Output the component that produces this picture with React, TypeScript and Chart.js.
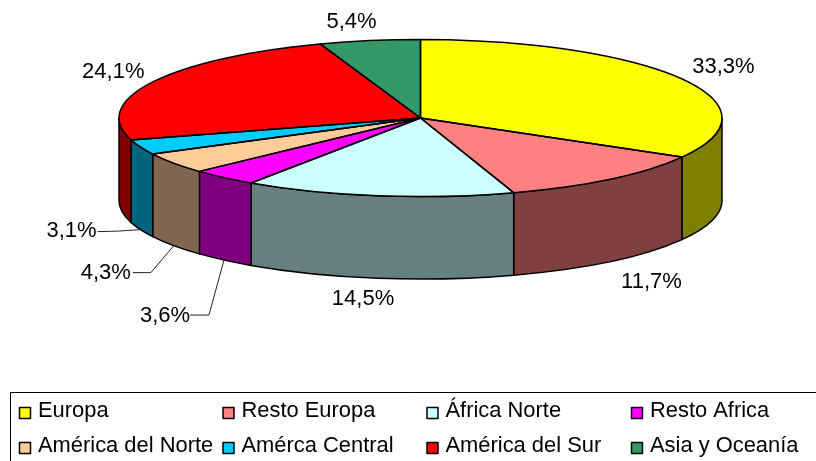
import React, { useEffect, useRef } from "react";
import { Chart, registerables } from "chart.js";

Chart.register(...registerables);

const categories = ["Europa", "Resto Europa", "África Norte", "Resto Africa", "América del Norte", "Amérca Central", "América del Sur", "Asia y Oceanía"];
const shares = [33.3, 11.7, 14.5, 3.6, 4.3, 3.1, 24.1, 5.4];
const topColors = ["#FFFF00", "#FF8080", "#CCFFFF", "#FF00FF", "#FFCC99", "#00CCFF", "#FF0000", "#339966"];
const sideColors = ["#808000", "#804040", "#668080", "#800080", "#806650", "#006680", "#800000", "#1A4D33"];

// layout (not data)
const RADIUS = 301.5;
const SQUASH = 78.5 / 301.5;
const DEPTH = 82.5;
const labelOffsets = [[42, -13], [41, 102], [-15, 102], [-59, 137], [-68, 109], [-69, 83], [-39, -11], [-18, -20]];
// elbows of leader lines relative to the anchor on the lower rim, then line end
const leaders: Record<number, number[][]> = {
  3: [[-15, 55], [-34, 55]],
  4: [[-23, 27], [-41, 27]],
  5: [[-23, 1.5], [-43, 2]],
};
const legendCols = [19.5, 223, 427, 631.5];
const legendBaselines = [417, 452];
const LABEL_FONT = '22px "Liberation Sans", Arial, sans-serif';
const LEGEND_FONT = '21.9px "Liberation Sans", Arial, sans-serif';

const fmt = (v: number) => v.toFixed(1).replace(".", ",") + "%";

const pie3d = {
  id: "pie3d",
  beforeDatasetsDraw(chart: any) {
    const { ctx } = chart;
    const arcs = chart.getDatasetMeta(0).data;
    ctx.save();
    arcs.forEach((a: any, i: number) => {
      const s = Math.max(a.startAngle, 0);
      const e = Math.min(a.endAngle, Math.PI);
      if (e <= s) return;
      const rx = a.outerRadius;
      const ry = rx * SQUASH;
      ctx.beginPath();
      ctx.ellipse(a.x, a.y, rx, ry, 0, s, e);
      ctx.ellipse(a.x, a.y + DEPTH, rx, ry, 0, e, s, true);
      ctx.closePath();
      ctx.fillStyle = sideColors[i];
      ctx.fill();
      ctx.lineWidth = 1.5;
      ctx.strokeStyle = "#000";
      ctx.lineJoin = "round";
      ctx.stroke();
    });
    ctx.restore();
    const first = arcs[0];
    ctx.save();
    ctx.translate(0, first.y);
    ctx.scale(1, SQUASH);
    ctx.translate(0, -first.y);
  },
  afterDatasetsDraw(chart: any) {
    const { ctx } = chart;
    ctx.restore();
    const arcs = chart.getDatasetMeta(0).data;
    ctx.save();
    ctx.lineWidth = 1.5;
    ctx.strokeStyle = "#000";
    ctx.lineJoin = "round";
    arcs.forEach((a: any) => {
      const rx = a.outerRadius;
      const ry = rx * SQUASH;
      ctx.beginPath();
      ctx.moveTo(a.x, a.y);
      ctx.ellipse(a.x, a.y, rx, ry, 0, a.startAngle, a.endAngle);
      ctx.closePath();
      ctx.stroke();
    });
    // data labels
    ctx.font = LABEL_FONT;
    ctx.fillStyle = "#000";
    ctx.textAlign = "center";
    ctx.textBaseline = "middle";
    arcs.forEach((a: any, i: number) => {
      const mid = (a.startAngle + a.endAngle) / 2;
      const px = a.x + a.outerRadius * Math.cos(mid);
      const py = a.y + a.outerRadius * SQUASH * Math.sin(mid);
      const [dx, dy] = labelOffsets[i];
      ctx.fillText(fmt(shares[i]), px + dx, py + dy + 1);
      const lead = leaders[i];
      if (lead) {
        const ay = py + DEPTH;
        ctx.beginPath();
        ctx.moveTo(px, ay);
        lead.forEach(([lx, ly]) => ctx.lineTo(px + lx, ay + ly));
        ctx.lineWidth = 1;
        ctx.strokeStyle = "#222";
        ctx.stroke();
      }
    });
    // legend
    ctx.lineWidth = 1;
    ctx.strokeStyle = "#000";
    ctx.strokeRect(10.5, 392.5, 900, 100);
    ctx.textAlign = "left";
    ctx.textBaseline = "alphabetic";
    ctx.font = LEGEND_FONT;
    categories.forEach((c, i) => {
      const x = legendCols[i % 4];
      const y = legendBaselines[Math.floor(i / 4)];
      ctx.fillStyle = topColors[i];
      ctx.fillRect(x, y - 9.5, 11, 11);
      ctx.lineWidth = 1.5;
      ctx.strokeRect(x, y - 9.5, 11, 11);
      ctx.fillStyle = "#000";
      ctx.fillText(c, x + 18.5, y);
    });
    ctx.restore();
  },
};

export default function App() {
  const ref = useRef<HTMLCanvasElement>(null);
  useEffect(() => {
    const chart = new Chart(ref.current!, {
      type: "pie",
      data: {
        labels: categories,
        datasets: [{ data: shares, backgroundColor: topColors, borderWidth: 0, clip: false } as any],
      },
      options: {
        responsive: false,
        animation: false,
        radius: RADIUS,
        layout: { padding: { left: 25, right: 0, top: 0, bottom: 225 } },
        plugins: { legend: { display: false }, tooltip: { enabled: false } },
      } as any,
      plugins: [pie3d],
    });
    return () => chart.destroy();
  }, []);
  return (
    <canvas
      ref={ref}
      width={816}
      height={461}
      style={{ position: "fixed", left: 0, top: 0, width: 816, height: 461, background: "#fff" }}
    />
  );
}
